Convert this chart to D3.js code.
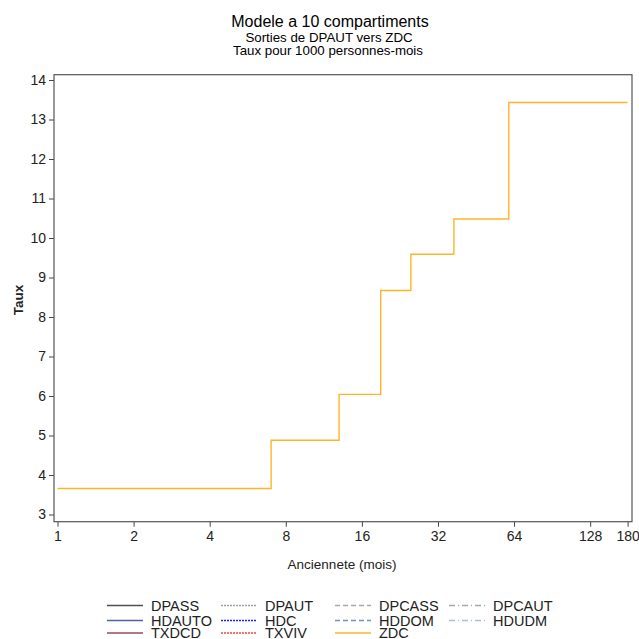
<!DOCTYPE html>
<html>
<head>
<meta charset="utf-8">
<script src="https://cdn.jsdelivr.net/npm/d3@7"></script>
<style>
  body { margin: 0; background: #fff; }
  svg { font-family: "Liberation Sans", Arial, sans-serif; }
</style>
</head>
<body>
<svg id="chart" width="639" height="639"></svg>
<script>
// step breaks (mois) and rates for ZDC
const breaks = [1, 7, 13, 19, 25, 37, 61, 180];
const zdcValues = [3.66, 4.88, 6.04, 8.67, 9.59, 10.48, 13.43];
const xTicks = [1, 2, 4, 8, 16, 32, 64, 128, 180];
const yTicks = [3, 4, 5, 6, 7, 8, 9, 10, 11, 12, 13, 14];
const legendNames = [
  ["DPASS", "DPAUT", "DPCASS", "DPCAUT"],
  ["HDAUTO", "HDC", "HDDOM", "HDUDM"],
  ["TXDCD", "TXVIV", "ZDC"]
];
const legendStyle = {
  DPASS:  { color: "#505050", dash: null },
  DPAUT:  { color: "#a0a0a0", dash: "2,1" },
  DPCASS: { color: "#a8a8a8", dash: "5,3" },
  DPCAUT: { color: "#a8a8a8", dash: "6,3,1,3" },
  HDAUTO: { color: "#4a64a0", dash: null },
  HDC:    { color: "#2020f0", dash: "2,1" },
  HDDOM:  { color: "#7090cc", dash: "5,3" },
  HDUDM:  { color: "#a8bce0", dash: "6,3,1,3" },
  TXDCD:  { color: "#a04858", dash: null },
  TXVIV:  { color: "#ff4040", dash: "2,1" },
  ZDC:    { color: "#ffb428", dash: null }
};

const svg = d3.select("#chart");

const frame = { left: 54, right: 632, top: 74.7, bottom: 521.7 };

const x = d3.scaleLog().base(2)
  .domain([1, 180])
  .range([57.5, 627.6]);

const y = d3.scaleLinear()
  .domain([3, 14])
  .range([514.5, 80]);

// titles
svg.append("text")
  .attr("x", 330).attr("y", 27)
  .attr("text-anchor", "middle")
  .style("font-size", "16px")
  .text("Modele a 10 compartiments");
svg.append("text")
  .attr("x", 329).attr("y", 41.5)
  .attr("text-anchor", "middle")
  .style("font-size", "13.3px")
  .text("Sorties de DPAUT vers ZDC");
svg.append("text")
  .attr("x", 328).attr("y", 55)
  .attr("text-anchor", "middle")
  .style("font-size", "13.3px")
  .text("Taux pour 1000 personnes-mois");

// axes
const yAxis = svg.append("g")
  .attr("transform", `translate(${frame.left},0)`)
  .call(d3.axisLeft(y).tickValues(yTicks).tickSize(5).tickPadding(3));
yAxis.select(".domain").remove();

const xAxis = svg.append("g")
  .attr("transform", `translate(0,${frame.bottom})`)
  .call(d3.axisBottom(x).tickValues(xTicks).tickFormat(d3.format("d")).tickSize(5).tickPadding(4));
xAxis.select(".domain").remove();

svg.selectAll(".tick text")
  .style("font-size", "14px")
  .attr("fill", "#222");
svg.selectAll(".tick line").attr("stroke", "#444");

// frame
svg.append("rect")
  .attr("x", frame.left).attr("y", frame.top)
  .attr("width", frame.right - frame.left)
  .attr("height", frame.bottom - frame.top)
  .attr("fill", "none")
  .attr("stroke", "#555")
  .attr("stroke-width", 1.2);

// axis labels
svg.append("text")
  .attr("x", 342).attr("y", 569)
  .attr("text-anchor", "middle")
  .style("font-size", "13.5px")
  .attr("fill", "#222")
  .text("Anciennete (mois)");
svg.append("text")
  .attr("transform", "translate(23,300) rotate(-90)")
  .attr("text-anchor", "middle")
  .style("font-size", "13.5px")
  .style("font-weight", "bold")
  .attr("fill", "#222")
  .text("Taux");

// ZDC step line
const pts = breaks.map((b, i) => ({ t: b, v: zdcValues[Math.min(i, zdcValues.length - 1)] }));
svg.append("path")
  .datum(pts)
  .attr("fill", "none")
  .attr("stroke", legendStyle.ZDC.color)
  .attr("stroke-width", 1.4)
  .attr("d", d3.line().x(d => x(d.t)).y(d => y(d.v)).curve(d3.curveStepAfter));

// legend
const colX = [107, 221, 335, 449];
const rowY = [605.5, 620.5, 633];
legendNames.forEach((row, r) => {
  row.forEach((name, c) => {
    const st = legendStyle[name];
    const g = svg.append("g").attr("transform", `translate(${colX[c]},${rowY[r]})`);
    g.append("line")
      .attr("x1", 0).attr("x2", 36)
      .attr("stroke", st.color)
      .attr("stroke-width", 1.3)
      .attr("stroke-dasharray", st.dash);
    g.append("text")
      .attr("x", 44).attr("y", 5)
      .style("font-size", "14.5px")
      .attr("fill", "#222")
      .text(name);
  });
});
</script>
</body>
</html>
